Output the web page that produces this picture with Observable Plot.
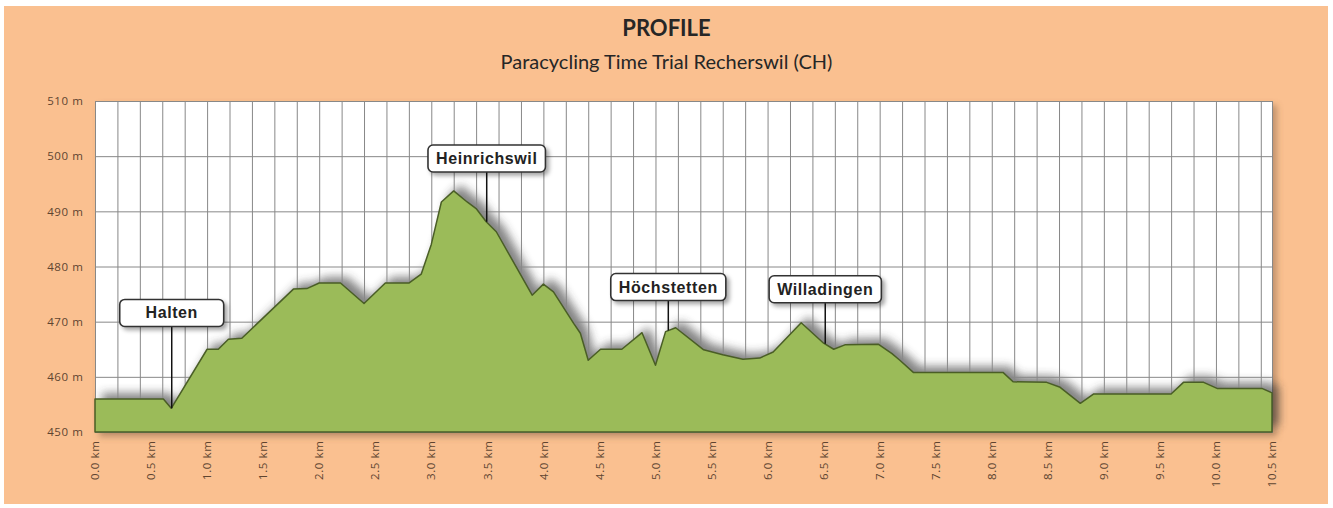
<!DOCTYPE html>
<html><head><meta charset="utf-8">
<script src="https://cdn.jsdelivr.net/npm/d3@7"></script>
<script src="https://cdn.jsdelivr.net/npm/@observablehq/plot@0.6"></script>
<style>
html,body{margin:0;padding:0;background:#fff;}
body{width:1333px;height:508px;position:relative;overflow:hidden;}
#bg{position:absolute;left:4px;top:6px;width:1324px;height:498px;background:#fac090;}
#title{position:absolute;left:0;top:17px;width:1333px;text-align:center;font-family:Lato;font-weight:bold;font-size:22px;line-height:22px;color:#262626;}
#subtitle{position:absolute;left:0;top:50px;width:1333px;text-align:center;font-family:Lato;font-size:20px;line-height:22px;color:#262626;}
#chart{position:absolute;left:0;top:85px;}
</style></head><body>
<div id="bg"></div>
<div id="title">PROFILE</div>
<div id="subtitle">Paracycling Time Trial Recherswil (CH)</div>
<div id="chart"></div>
<script>
// distance along course (km) and elevation (m)
const km =   [0, 0.61, 0.68, 1.0, 1.1, 1.19, 1.31, 1.77, 1.89, 2.0, 2.19, 2.40, 2.59, 2.80, 2.91, 3.0, 3.09, 3.20, 3.32, 3.40, 3.49, 3.58, 3.90, 4.00, 4.09, 4.27, 4.33, 4.40, 4.51, 4.70, 4.88, 5.00, 5.09, 5.18, 5.43, 5.60, 5.78, 5.93, 6.05, 6.30, 6.50, 6.59, 6.69, 6.99, 7.11, 7.18, 7.30, 8.10, 8.19, 8.49, 8.61, 8.79, 8.91, 9.60, 9.71, 9.89, 10.01, 10.41, 10.5];
const elev = [456, 456, 454.3, 465, 465, 466.8, 467, 475.9, 476, 477, 477, 473.3, 477, 477, 478.6, 484, 491.7, 493.7, 491.7, 490.5, 488.1, 486.3, 474.8, 476.8, 475.4, 469.7, 467.9, 463, 465, 465, 468, 462.1, 468.2, 468.9, 464.9, 464, 463.2, 463.4, 464.5, 469.8, 466.1, 465, 465.8, 465.9, 464.2, 463, 460.8, 460.8, 459.1, 459, 458.1, 455.2, 456.9, 456.9, 459, 459, 457.9, 457.9, 457.1];

// places
const placeName = ["Halten", "Heinrichswil", "Höchstetten", "Willadingen"];
const placeKm = [0.68, 3.49, 5.11, 6.51];
const placeElev = [454.3, 488.1, 468.4, 466];
const labelElev = [471.6, 499.6, 476.3, 475.9];

// ticks
const xTicks = [0, 0.5, 1, 1.5, 2, 2.5, 3, 3.5, 4, 4.5, 5, 5.5, 6, 6.5, 7, 7.5, 8, 8.5, 9, 9.5, 10, 10.5];
const yTicks = [450, 460, 470, 480, 490, 500, 510];
const gridKm = d3.range(0, 10.45, 0.2);

const profile = km.map((d, i) => ({km: d, elev: elev[i]}));
const places = placeName.map((n, i) => ({name: n, km: placeKm[i], elev: placeElev[i], label: labelElev[i]}));

const chart = Plot.plot({
  width: 1333, height: 423,
  marginLeft: 95, marginRight: 61, marginTop: 16, marginBottom: 76,
  style: {background: "transparent", fontFamily: "Open Sans", fontSize: "11.5px", letterSpacing: "0.6px", color: "#5e4530", overflow: "visible"},
  x: {domain: [0, 10.5], ticks: xTicks, tickFormat: d => d.toFixed(1) + " km", tickSize: 0, tickPadding: 8, tickRotate: -90, label: null},
  y: {domain: [450, 510], ticks: yTicks, tickFormat: d => d + " m", tickSize: 0, tickPadding: 12, label: null},
  marks: [
    Plot.frame({fill: "white", stroke: "#888"}),
    Plot.areaY(profile, {x: "km", y1: 450, y2: "elev", fill: "#333"}),
    Plot.ruleX(gridKm, {stroke: "#888", strokeWidth: 1}),
    Plot.ruleY(yTicks, {stroke: "#888", strokeWidth: 1}),
    Plot.areaY(profile, {x: "km", y1: 450, y2: "elev", fill: "#9bbb59", stroke: "#4a5e26", strokeWidth: 1.5}),
    Plot.ruleX(places, {x: "km", y1: "elev", y2: "label", stroke: "#111", strokeWidth: 1.5}),
    Plot.text(places, {x: "km", y: "label", text: "name", fontWeight: "bold", fontSize: 16, fontFamily: "Liberation Sans", fill: "#222", letterSpacing: "0.3px"})
  ]
});

document.getElementById("chart").appendChild(chart);

// filters for shadows
const svgns = "http://www.w3.org/2000/svg";
const defs = document.createElementNS(svgns, "defs");
defs.innerHTML = `
<filter id="areaShadow" x="-10%" y="-40%" width="120%" height="180%">
  <feGaussianBlur in="SourceGraphic" stdDeviation="5"/>
</filter>
<filter id="frameShadow" x="-5%" y="-10%" width="110%" height="120%">
  <feDropShadow dx="4" dy="4" stdDeviation="3" flood-color="#7a5a40" flood-opacity="0.45"/>
</filter>
<filter id="boxShadow" x="-20%" y="-40%" width="140%" height="180%">
  <feDropShadow dx="3" dy="3" stdDeviation="2" flood-color="#000" flood-opacity="0.35"/>
</filter>`;
chart.insertBefore(defs, chart.firstChild);

const frameEl = chart.querySelector('[aria-label="frame"]');
if (frameEl) frameEl.setAttribute("filter", "url(#frameShadow)");
const areas = chart.querySelectorAll('g[aria-label="area"]');
if (areas.length > 1) {
  const shG = areas[0];
  shG.setAttribute("filter", "url(#areaShadow)");
  shG.setAttribute("transform", "translate(7,-6)");
  shG.setAttribute("opacity", "0.6");
}

// label boxes
const lg = chart.querySelector('g[aria-label="text"]');
if (lg) {
  lg.querySelectorAll("text").forEach(t => {
    const b = t.getBBox();
    const w = Math.max(b.width + 16, 104), h = 27;
    const cx = b.x + b.width / 2, cy = b.y + b.height / 2;
    const r = document.createElementNS(svgns, "rect");
    r.setAttribute("x", cx - w / 2);
    r.setAttribute("y", cy - h / 2);
    r.setAttribute("width", w);
    r.setAttribute("height", h);
    r.setAttribute("rx", 5);
    r.setAttribute("fill", "white");
    r.setAttribute("stroke", "#333");
    r.setAttribute("stroke-width", 1.6);
    r.setAttribute("filter", "url(#boxShadow)");
    const tr = t.getAttribute("transform");
    if (tr) r.setAttribute("transform", tr);
    lg.insertBefore(r, t);
  });
}
</script>
</body></html>
